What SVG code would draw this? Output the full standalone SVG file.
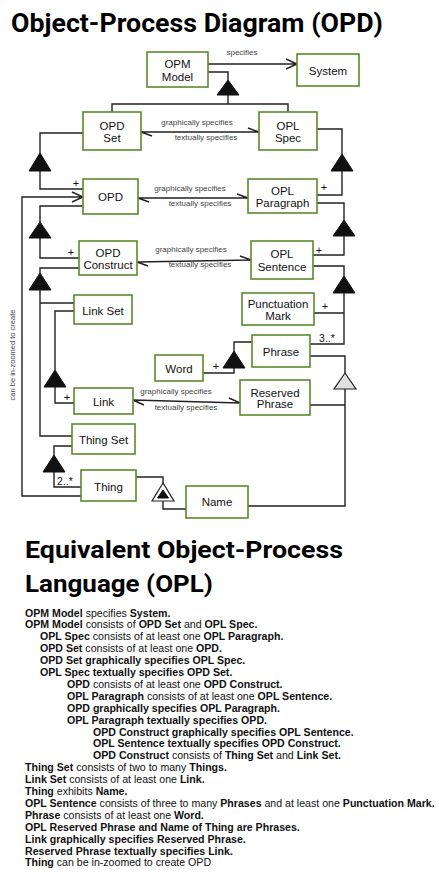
<svg xmlns="http://www.w3.org/2000/svg" width="439" height="878" viewBox="0 0 439 878">
<style>
.bg{fill:#fff}
.box{fill:#fff;stroke:#5b8a2b;stroke-width:1.6}
.lbl{font-family:"Liberation Sans",Arial,sans-serif;font-size:11.5px;fill:#111;text-anchor:middle;dominant-baseline:central}
.ln{fill:none;stroke:#222;stroke-width:1.4}
.tri{fill:#111;stroke:#111;stroke-width:1}
.gen{fill:#e0e0e0;stroke:#222;stroke-width:1.2}
.ex{fill:#fff;stroke:#222;stroke-width:1.2}
.lk{font-family:"Liberation Sans",Arial,sans-serif;font-size:8px;fill:#444;text-anchor:middle;dominant-baseline:central}
.pl{font-family:"Liberation Sans",Arial,sans-serif;font-size:11px;fill:#111;text-anchor:middle;dominant-baseline:central}
.h{font-family:Roboto,"DejaVu Sans",sans-serif;font-weight:bold;fill:#000}
.o{font-family:"Liberation Sans",Arial,sans-serif;font-size:10.6px;fill:#111}
.o tspan.b,.o.b{font-weight:bold}
</style>
<rect class="bg" x="0" y="0" width="439" height="878"/>
<text class="h" x="11" y="32" font-size="26" textLength="372" lengthAdjust="spacingAndGlyphs">Object-Process Diagram (OPD)</text>

<g id="connectors">
  <!-- OPM Model specifies System -->
  <path class="ln" d="M208,64 H297 M286,59 L297,64 L286,69"/>
  <text class="lk" x="242" y="52">specifies</text>
  <!-- OPM Model aggregation -->
  <path class="ln" d="M208,72 H228 V80 M228,95 V104 M112,112 V104 H288 V112"/>
  <path class="tri" d="M228,80 L217,95 L239,95 Z"/>
  <!-- OPD Set <-> OPL Spec -->
  <path class="ln" d="M141,132 H259 M141,132 L152,136 M259,132 L248,128"/>
  <text class="lk" x="197" y="122">graphically specifies</text>
  <text class="lk" x="206" y="137">textually specifies</text>
  <!-- OPD Set aggregation -->
  <path class="ln" d="M83,133 H40 V153 M40,171 V189 H83"/>
  <path class="tri" d="M40,153 L29,171 L51,171 Z"/>
  <text class="pl" x="76" y="183">+</text>
  <!-- OPL Spec aggregation -->
  <path class="ln" d="M317,129 H342 V154 M342,171 V195 H317"/>
  <path class="tri" d="M342,154 L331,171 L353,171 Z"/>
  <text class="pl" x="324" y="187">+</text>
  <!-- OPD <-> OPL Paragraph -->
  <path class="ln" d="M138,198 H248 M138,198 L149,202 M248,198 L237,194"/>
  <text class="lk" x="190" y="188">graphically specifies</text>
  <text class="lk" x="200" y="203">textually specifies</text>
  <!-- OPD aggregation -->
  <path class="ln" d="M83,206 H40 V222 M40,238 V258 H79"/>
  <path class="tri" d="M40,222 L29,238 L51,238 Z"/>
  <text class="pl" x="71" y="252">+</text>
  <!-- OPL Paragraph aggregation -->
  <path class="ln" d="M317,203 H344 V220 M344,236 V255 H313"/>
  <path class="tri" d="M344,220 L333,236 L355,236 Z"/>
  <text class="pl" x="319" y="250">+</text>
  <!-- OPD Construct <-> OPL Sentence -->
  <path class="ln" d="M137,262 L251,260 M137,262 L148,266 M251,260 L240,256"/>
  <text class="lk" x="191" y="249">graphically specifies</text>
  <text class="lk" x="200" y="264">textually specifies</text>
  <!-- OPD Construct aggregation -->
  <path class="ln" d="M79,268 H40 V273 M40,290 V436 H72 M40,303 H74"/>
  <path class="tri" d="M40,273 L29,290 L51,290 Z"/>
  <!-- Link Set aggregation -->
  <path class="ln" d="M74,311 H55 V370 M55,387 V403 H74"/>
  <path class="tri" d="M55,370 L44,387 L66,387 Z"/>
  <text class="pl" x="67" y="397">+</text>
  <!-- Link <-> Reserved Phrase -->
  <path class="ln" d="M133,400 L240,403 M133,400 L144,405 M240,403 L229,398"/>
  <text class="lk" x="176" y="391">graphically specifies</text>
  <text class="lk" x="186" y="407">textually specifies</text>
  <!-- Thing Set aggregation -->
  <path class="ln" d="M72,446 H54 V455 M54,472 V487 H81"/>
  <path class="tri" d="M54,455 L43,472 L65,472 Z"/>
  <text class="pl" x="65" y="481" style="font-size:10.5px">2..*</text>
  <!-- Thing exhibits Name -->
  <path class="ln" d="M136,477 H163 V483 M163,501 V509 H186"/>
  <path class="ex" d="M163,483 L152,501 L174,501 Z"/>
  <path class="tri" d="M163,490 L157.5,498 L168.5,498 Z"/>
  <!-- Thing in-zoomed to OPD -->
  <path class="ln" d="M81,496 H22 V197 H83 M72,192 L83,197 L72,202"/>
  <text class="lk" x="12" y="355" transform="rotate(-90 12 355)" style="font-size:7.5px">can be in-zoomed to create</text>
  <!-- OPL Sentence aggregation -->
  <path class="ln" d="M313,266 H344 V276 M344,293 V344 H310 M344,313 H314"/>
  <path class="tri" d="M344,276 L333,293 L355,293 Z"/>
  <text class="pl" x="325" y="306">+</text>
  <text class="pl" x="327" y="338" style="font-size:10.5px">3..*</text>
  <!-- Phrase aggregation -->
  <path class="ln" d="M252,342 H234 V351 M234,368 V373 H203"/>
  <path class="tri" d="M234,351 L223,368 L245,368 Z"/>
  <text class="pl" x="216" y="366">+</text>
  <!-- Phrase generalization -->
  <path class="ln" d="M310,356 H345 V373 M345,389 V506 H248 M345,405 H310"/>
  <path class="gen" d="M345,373 L334,389 L356,389 Z"/>
</g>

<g id="opm-model"><rect class="box" x="147" y="52" width="61" height="35"/><text class="lbl" x="177.5" y="64">OPM</text><text class="lbl" x="177.5" y="77">Model</text></g>
<g id="system"><rect class="box" x="297" y="54" width="62" height="32"/><text class="lbl" x="328" y="71">System</text></g>
<g id="opd-set"><rect class="box" x="83" y="112" width="58" height="38"/><text class="lbl" x="112" y="126">OPD</text><text class="lbl" x="112" y="138">Set</text></g>
<g id="opl-spec"><rect class="box" x="259" y="112" width="58" height="38"/><text class="lbl" x="288" y="126">OPL</text><text class="lbl" x="288" y="138">Spec</text></g>
<g id="opd"><rect class="box" x="83" y="179" width="55" height="35"/><text class="lbl" x="110.5" y="197">OPD</text></g>
<g id="opl-paragraph"><rect class="box" x="248" y="179" width="69" height="34"/><text class="lbl" x="282.5" y="191">OPL</text><text class="lbl" x="282.5" y="203">Paragraph</text></g>
<g id="opd-construct"><rect class="box" x="79" y="241" width="58" height="34"/><text class="lbl" x="108" y="253">OPD</text><text class="lbl" x="108" y="265">Construct</text></g>
<g id="opl-sentence"><rect class="box" x="251" y="241" width="62" height="38"/><text class="lbl" x="282" y="254">OPL</text><text class="lbl" x="282" y="267">Sentence</text></g>
<g id="punctuation-mark"><rect class="box" x="242" y="293" width="72" height="32"/><text class="lbl" x="278" y="304">Punctuation</text><text class="lbl" x="278" y="316">Mark</text></g>
<g id="phrase"><rect class="box" x="252" y="335" width="58" height="32"/><text class="lbl" x="281" y="352">Phrase</text></g>
<g id="reserved-phrase"><rect class="box" x="240" y="380" width="70" height="35"/><text class="lbl" x="275" y="393">Reserved</text><text class="lbl" x="275" y="404">Phrase</text></g>
<g id="name"><rect class="box" x="186" y="486" width="62" height="32"/><text class="lbl" x="217" y="502">Name</text></g>
<g id="word"><rect class="box" x="155" y="355" width="48" height="26"/><text class="lbl" x="179" y="369">Word</text></g>
<g id="link-set"><rect class="box" x="74" y="295" width="58" height="29"/><text class="lbl" x="103" y="311">Link Set</text></g>
<g id="link"><rect class="box" x="74" y="388" width="59" height="26"/><text class="lbl" x="103.5" y="402">Link</text></g>
<g id="thing-set"><rect class="box" x="72" y="424" width="63" height="30"/><text class="lbl" x="103.5" y="440">Thing Set</text></g>
<g id="thing"><rect class="box" x="81" y="470" width="55" height="31"/><text class="lbl" x="108.5" y="487">Thing</text></g>

<text class="h" x="25" y="558" font-size="23" textLength="318" lengthAdjust="spacingAndGlyphs">Equivalent Object-Process</text>
<text class="h" x="25" y="592" font-size="23" textLength="188" lengthAdjust="spacingAndGlyphs">Language (OPL)</text>

<g id="opl">
<text class="o" x="25" y="616.5"><tspan class="b">OPM Model</tspan> specifies <tspan class="b">System.</tspan></text>
<text class="o" x="25" y="628.4"><tspan class="b">OPM Model</tspan> consists of <tspan class="b">OPD Set</tspan> and <tspan class="b">OPL Spec.</tspan></text>
<text class="o" x="40" y="640.3"><tspan class="b">OPL Spec</tspan> consists of at least one <tspan class="b">OPL Paragraph.</tspan></text>
<text class="o" x="40" y="652.2"><tspan class="b">OPD Set</tspan> consists of at least one <tspan class="b">OPD.</tspan></text>
<text class="o b" x="40" y="664.1">OPD Set graphically specifies OPL Spec.</text>
<text class="o b" x="40" y="676">OPL Spec textually specifies OPD Set.</text>
<text class="o" x="67" y="687.9"><tspan class="b">OPD</tspan> consists of at least one <tspan class="b">OPD Construct.</tspan></text>
<text class="o" x="67" y="699.8"><tspan class="b">OPL Paragraph</tspan> consists of at least one <tspan class="b">OPL Sentence.</tspan></text>
<text class="o b" x="67" y="711.7">OPD graphically specifies OPL Paragraph.</text>
<text class="o b" x="67" y="723.6">OPL Paragraph textually specifies OPD.</text>
<text class="o b" x="93" y="735.5">OPD Construct graphically specifies OPL Sentence.</text>
<text class="o b" x="93" y="747.4">OPL Sentence textually specifies OPD Construct.</text>
<text class="o" x="93" y="759.3"><tspan class="b">OPD Construct</tspan> consists of <tspan class="b">Thing Set</tspan> and <tspan class="b">Link Set.</tspan></text>
<text class="o" x="25" y="771.2"><tspan class="b">Thing Set</tspan> consists of two to many <tspan class="b">Things.</tspan></text>
<text class="o" x="25" y="783.1"><tspan class="b">Link Set</tspan> consists of at least one <tspan class="b">Link.</tspan></text>
<text class="o" x="25" y="795"><tspan class="b">Thing</tspan> exhibits <tspan class="b">Name.</tspan></text>
<text class="o" x="25" y="806.9"><tspan class="b">OPL Sentence</tspan> consists of three to many <tspan class="b">Phrases</tspan> and at least one <tspan class="b">Punctuation Mark.</tspan></text>
<text class="o" x="25" y="818.8"><tspan class="b">Phrase</tspan> consists of at least one <tspan class="b">Word.</tspan></text>
<text class="o b" x="25" y="830.7">OPL Reserved Phrase and Name of Thing are Phrases.</text>
<text class="o b" x="25" y="842.6">Link graphically specifies Reserved Phrase.</text>
<text class="o b" x="25" y="854.5">Reserved Phrase textually specifies Link.</text>
<text class="o" x="25" y="866.4"><tspan class="b">Thing</tspan> can be in-zoomed to create OPD</text>
</g>
</svg>
